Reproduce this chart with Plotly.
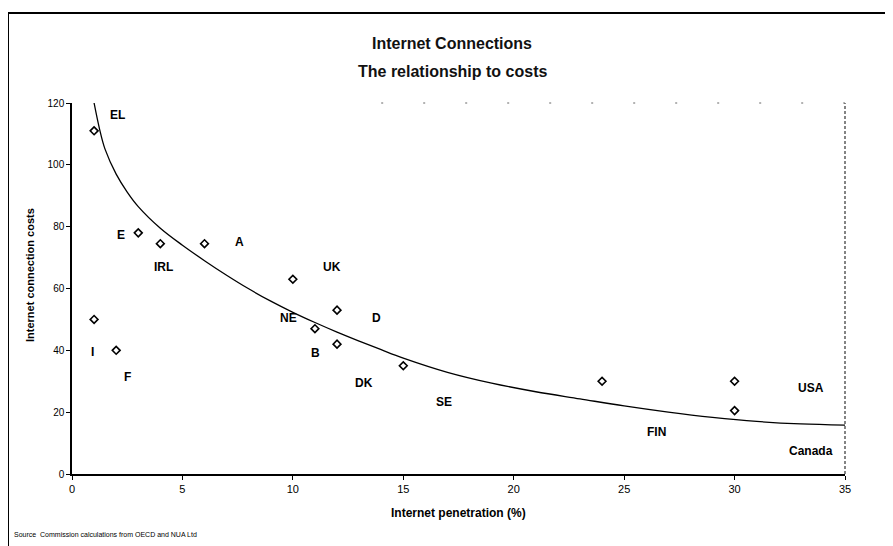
import plotly.graph_objects as go

# Observed data points (Internet penetration %, connection cost)
penetration = [1, 3, 4, 6, 10, 12, 11, 12, 15, 1, 2, 24, 30, 30]
costs = [111, 78, 74.5, 74.5, 63, 53, 47, 42, 35, 50, 40, 30, 30, 20.5]

# Trend line
trend_x = [1.0, 1.25, 1.5, 2, 2.5, 3, 4, 5, 6, 7, 8, 9, 10, 11, 12, 13, 14, 15,
           17, 19, 21, 23, 25, 27, 29, 31, 33, 35]
trend_y = [120, 111.5, 105, 97, 91.2, 86.5, 79.5, 74.0, 69.0, 64.3, 59.9, 55.9,
           52.3, 49.0, 45.9, 43.0, 40.2, 37.5, 32.9, 29.4, 26.6, 24.3, 22.0,
           20.0, 18.3, 17.0, 16.2, 15.8]

# Country labels and where they sit (data units)
label_text = ["EL", "E", "IRL", "A", "UK", "NE", "D", "B", "DK", "SE", "FIN",
              "USA", "Canada", "I", "F"]
label_x = [2.04, 2.22, 4.16, 7.6, 11.76, 9.82, 13.8, 11.04, 13.21, 16.83, 26.47,
           33.48, 33.48, 0.95, 2.53]
label_y = [116.2, 77.3, 67.0, 75.1, 67.0, 50.5, 50.5, 39.2, 29.4, 23.3, 13.6,
           27.8, 7.4, 39.5, 31.4]

x_ticks = [0, 5, 10, 15, 20, 25, 30, 35]
y_ticks = [0, 20, 40, 60, 80, 100, 120]

FONT = "Liberation Sans, Arial, sans-serif"
PW, PH = 773.0, 371.0   # plot-area size in px (for paper-relative placement)

fig = go.Figure()
fig.add_trace(go.Scatter(x=trend_x, y=trend_y, mode="lines",
                         line=dict(color="black", width=1.3, shape="spline", smoothing=1),
                         hoverinfo="skip", showlegend=False))
fig.add_trace(go.Scatter(x=penetration, y=costs, mode="markers",
                         marker=dict(symbol="diamond-open", size=6,
                                     color="black", line=dict(width=1.6, color="black")),
                         showlegend=False))

for t, lx, ly in zip(label_text, label_x, label_y):
    fig.add_annotation(x=lx, y=ly, text=f"<b>{t}</b>", showarrow=False,
                       xanchor="center", yanchor="middle",
                       font=dict(family=FONT, size=12, color="black"))

# Titles
fig.add_annotation(xref="paper", yref="paper", x=0.492, y=1.0 + (103 - 43) / PH,
                   xanchor="center", yanchor="middle",
                   text="<b>Internet Connections</b>", showarrow=False,
                   font=dict(family=FONT, size=16, color="#111"))
fig.add_annotation(xref="paper", yref="paper", x=0.492, y=1.0 + (103 - 71) / PH,
                   xanchor="center", yanchor="middle",
                   text="<b>The relationship to costs</b>", showarrow=False,
                   font=dict(family=FONT, size=16, color="#111"))
fig.add_annotation(xref="paper", yref="paper", x=0.5, y=-(513 - 474) / PH,
                   xanchor="center", yanchor="middle",
                   text="<b>Internet penetration (%)</b>", showarrow=False,
                   font=dict(family=FONT, size=12, color="black"))
fig.add_annotation(xref="paper", yref="paper", x=-(72 - 30) / PW, y=(474 - 275) / PH,
                   xanchor="center", yanchor="middle",
                   text="<b>Internet connection costs</b>", showarrow=False,
                   textangle=-90,
                   font=dict(family=FONT, size=11, color="black"))
fig.add_annotation(xref="paper", yref="paper", x=-(72 - 12) / PW, y=-(534 - 474) / PH,
                   xanchor="left", yanchor="middle",
                   text="Source  Commission calculations from OECD and NUA Ltd",
                   showarrow=False, font=dict(family=FONT, size=7, color="black"))

# Outer frame (left and top) and faint plot-area edges
fig.add_shape(type="line", xref="paper", yref="paper",
              x0=-(72 - 8) / PW, x1=-(72 - 8) / PW, y0=-(546 - 474) / PH, y1=(474 - 13) / PH,
              line=dict(color="black", width=2))
fig.add_shape(type="line", xref="paper", yref="paper",
              x0=-(72 - 8) / PW, x1=(893 - 72) / PW, y0=(474 - 13) / PH, y1=(474 - 13) / PH,
              line=dict(color="black", width=2))
fig.add_shape(type="line", xref="paper", yref="paper", x0=1, x1=1, y0=0, y1=1,
              line=dict(color="#333", width=1.2, dash="3px,2px"))
fig.add_shape(type="line", xref="paper", yref="paper", x0=0.4, x1=1, y0=1, y1=1,
              line=dict(color="#666", width=1, dash="2px,40px"))

# The page adds an 8px body margin, so the figure is 8px smaller to fit the window
fig.update_layout(
    width=885, height=538,
    margin=dict(l=64, r=48, t=95, b=72),
    paper_bgcolor="white", plot_bgcolor="white",
    font=dict(family=FONT, color="black"),
    xaxis=dict(range=[0, 35], tickvals=x_ticks, ticks="outside", ticklen=4,
               tickwidth=1, tickcolor="black", showgrid=False, zeroline=False,
               showline=True, linecolor="black", linewidth=1.5,
               tickfont=dict(family=FONT, size=11, color="black")),
    yaxis=dict(range=[0, 120], tickvals=y_ticks, ticks="outside", ticklen=4,
               tickwidth=1, tickcolor="black", showgrid=False, zeroline=False,
               showline=True, linecolor="black", linewidth=1.5,
               tickfont=dict(family=FONT, size=10, color="black")),
)

fig.write_html("out.html")
